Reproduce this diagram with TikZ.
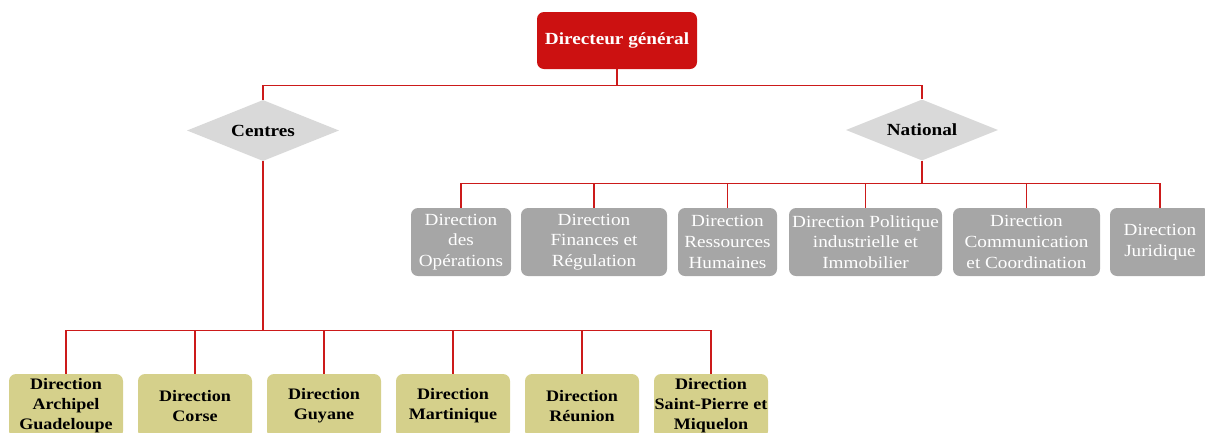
\documentclass[tikz,border=0pt]{standalone}
\usepackage{fontspec}
\setmainfont{Liberation Serif}[FakeStretch=1.13]
\usetikzlibrary{shapes.geometric}
\definecolor{dgred}{HTML}{CC1111}
\definecolor{natgray}{HTML}{A6A6A6}
\definecolor{centreolive}{HTML}{D5D08B}
\definecolor{diagray}{HTML}{D9D9D9}
\definecolor{linkred}{HTML}{CC1A1A}

\begin{document}
\begin{tikzpicture}[x=1pt,y=-1pt,
  every node/.style={inner sep=0pt, align=center},
  headbox/.style={rectangle, rounded corners=7pt, fill=dgred, text=white,
    font=\fontsize{17}{20}\selectfont\bfseries, minimum width=160pt, minimum height=57pt},
  groupdiamond/.style={diamond, aspect=2.5, fill=diagray,
    font=\fontsize{17}{20}\selectfont\bfseries, minimum width=152pt, minimum height=61pt},
  natbox/.style={rectangle, rounded corners=7pt, fill=natgray, text=white,
    font=\fontsize{17}{20.7}\selectfont, minimum height=68pt},
  centrebox/.style={rectangle, rounded corners=7pt, fill=centreolive, text=black,
    font=\fontsize{16}{20}\selectfont\bfseries, minimum width=114pt, minimum height=64pt},
  link/.style={draw=linkred, line width=1.2pt},
  stem/.style={draw=linkred, line width=2pt}]

\useasboundingbox (0,0) rectangle (1205,432);
\clip (0,0) rectangle (1205,432);

% head
\node[headbox] (dg) at (617,40.5) {Directeur général};

% the two groups
\node[groupdiamond] (centres) at (263,130.5) {Centres};
\node[groupdiamond] (national) at (922,130) {National};

% national directorates
\node[natbox, minimum width=100pt] (ops) at (461,242) {Direction\\des\\Opérations};
\node[natbox, minimum width=146pt] (fin) at (594,242) {Direction\\Finances et\\Régulation};
\node[natbox, minimum width=99pt]  (rh)  at (727.5,242) {Direction\\Ressources\\Humaines};
\node[natbox, minimum width=153pt] (pol) at (865.5,242) {Direction Politique\\industrielle et\\Immobilier};
\node[natbox, minimum width=147pt] (com) at (1026.5,242) {Direction\\Communication\\et Coordination};
\node[natbox, minimum width=100pt] (jur) at (1160,242) {Direction\\Juridique};

% overseas and regional centres
\node[centrebox] (gua) at (66,406)  {Direction\\Archipel\\Guadeloupe};
\node[centrebox] (cor) at (195,406) {Direction\\Corse};
\node[centrebox] (guy) at (324,406) {Direction\\Guyane};
\node[centrebox] (mar) at (453,406) {Direction\\Martinique};
\node[centrebox] (reu) at (582,406) {Direction\\Réunion};
\node[centrebox] (spm) at (711,406) {Direction\\Saint-Pierre et\\Miquelon};

% head to groups
\draw[link] (dg.south) -- ++(0,16) coordinate (topbus);
\draw[link] (topbus) -| (centres.north);
\draw[link] (topbus) -| (national.north);

% national bus
\draw[stem] (national.south) -- ++(0,23) coordinate (nbus);
\foreach \n in {ops,fin,rh,pol,com,jur}
  \draw[link] (nbus) -| (\n.north);

% centres bus
\draw[stem] (centres.south) -- ++(0,169) coordinate (cbus);
\foreach \n in {gua,cor,guy,mar,reu,spm}
  \draw[link] (cbus) -| (\n.north);
\end{tikzpicture}
\end{document}
